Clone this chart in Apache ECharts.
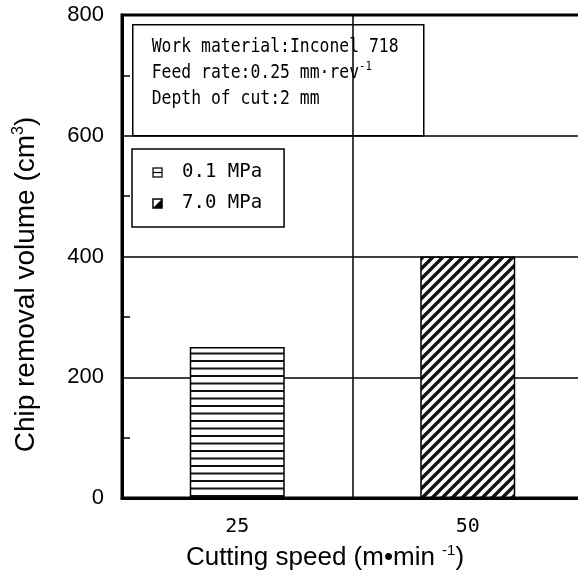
<!DOCTYPE html>
<html>
<head>
<meta charset="utf-8">
<script src="https://cdn.jsdelivr.net/npm/echarts@6/dist/echarts.min.js"></script>
<style>
  html, body { margin: 0; padding: 0; background: #fff; }
  #chart { width: 578px; height: 586px; }
</style>
</head>
<body>
<div id="chart"></div>
<script>
// data
const categories = ['25', '50']
const seriesNames = ['0.1 MPa', '7.0 MPa']
const lowPressure = [250, null]
const highPressure = [null, 400]
const yTicks = { min: 0, max: 800, interval: 200 }

const monoFont = '"DejaVu Sans Mono", monospace'
const sansFont = '"Liberation Sans", Arial, sans-serif'

// hatch patterns for the bars
function makeCanvas (w, h) {
  const c = document.createElement('canvas')
  c.width = w
  c.height = h
  return c
}

function horizontalHatch () {
  const c = makeCanvas(10, 15)
  const ctx = c.getContext('2d')
  ctx.fillStyle = '#fff'
  ctx.fillRect(0, 0, 10, 15)
  ctx.fillStyle = '#111'
  ctx.fillRect(0, 0, 10, 2)
  ctx.fillRect(0, 7.5, 10, 2)
  return c
}

function diagonalHatch () {
  const s = 10
  const c = makeCanvas(s, s)
  const ctx = c.getContext('2d')
  ctx.fillStyle = '#fff'
  ctx.fillRect(0, 0, s, s)
  ctx.strokeStyle = '#111'
  ctx.lineWidth = 3.4
  ctx.beginPath()
  // "/" stripes, repeated so the tile joins up
  for (let k = -1; k <= 1; k++) {
    ctx.moveTo(k * s - 2, s + 2)
    ctx.lineTo(k * s + s + 2, -2)
  }
  ctx.stroke()
  return c
}

// legend icons
function iconLines () {
  const c = makeCanvas(22, 22)
  const ctx = c.getContext('2d')
  ctx.strokeStyle = '#000'
  ctx.lineWidth = 2.5
  ctx.strokeRect(2, 2, 18, 18)
  ctx.beginPath()
  ctx.moveTo(2, 11)
  ctx.lineTo(20, 11)
  ctx.stroke()
  return c.toDataURL()
}

function iconDiag () {
  const c = makeCanvas(22, 22)
  const ctx = c.getContext('2d')
  ctx.fillStyle = '#000'
  ctx.beginPath()
  ctx.moveTo(20, 2)
  ctx.lineTo(20, 20)
  ctx.lineTo(2, 20)
  ctx.closePath()
  ctx.fill()
  ctx.strokeStyle = '#000'
  ctx.lineWidth = 3
  ctx.strokeRect(2, 2, 18, 18)
  return c.toDataURL()
}

const chart = echarts.init(document.getElementById('chart'))

const option = {
  animation: false,
  backgroundColor: '#fff',
  grid: {
    left: 122,
    width: 461, // runs past the right edge, as in the original
    top: 15,
    bottom: 88,
    outerBoundsMode: 'none',
    show: true,
    borderColor: '#000',
    borderWidth: 3,
    backgroundColor: 'transparent'
  },
  legend: {
    orient: 'vertical',
    left: 132,
    top: 149,
    padding: [14, 22, 14, 20],
    itemGap: 12,
    itemWidth: 11,
    itemHeight: 11,
    borderColor: '#000',
    borderWidth: 1.5,
    backgroundColor: '#fff',
    z: 20,
    textStyle: {
      fontFamily: monoFont,
      fontSize: 19,
      color: '#000',
      padding: [0, 0, 0, 14]
    },
    data: [
      { name: seriesNames[0], icon: 'image://' + iconLines() },
      { name: seriesNames[1], icon: 'image://' + iconDiag() }
    ]
  },
  xAxis: {
    type: 'category',
    data: categories,
    boundaryGap: true,
    axisLine: { show: true, lineStyle: { color: '#000', width: 3 } },
    axisTick: { show: false },
    axisLabel: {
      margin: 19,
      fontFamily: monoFont,
      fontSize: 20,
      color: '#000'
    },
    splitLine: { show: true, lineStyle: { color: '#000', width: 1.5 } },
    name: 'Cutting speed (m•min {sup|-1})',
    nameLocation: 'middle',
    nameGap: 45,
    nameTextStyle: {
      fontFamily: sansFont,
      fontSize: 26,
      color: '#000',
      padding: [0, 55, 0, 0],
      rich: {
        sup: { fontFamily: sansFont, fontSize: 15, color: '#000', verticalAlign: 'top', padding: [0, 0, 14, 0] }
      }
    }
  },
  yAxis: {
    type: 'value',
    min: yTicks.min,
    max: yTicks.max,
    interval: yTicks.interval,
    axisLine: { show: true, lineStyle: { color: '#000', width: 3 } },
    axisTick: { show: false, inside: true, length: 8 },
    minorTick: { show: true, splitNumber: 2, length: 8, lineStyle: { color: '#000', width: 1.5 } },
    axisLabel: {
      margin: 18,
      fontFamily: sansFont,
      fontSize: 22,
      color: '#000'
    },
    splitLine: { show: true, lineStyle: { color: '#000', width: 1.5 } },
    name: 'Chip removal volume (cm{sup|3})',
    nameLocation: 'middle',
    nameGap: 80,
    nameTextStyle: {
      fontFamily: sansFont,
      fontSize: 28,
      color: '#000',
      padding: [0, 56, 0, 0],
      rich: {
        sup: { fontFamily: sansFont, fontSize: 16, color: '#000', verticalAlign: 'top', padding: [0, 0, 15, 0] }
      }
    }
  },
  graphic: [
    {
      type: 'group',
      left: 132,
      top: 24,
      z: 50,
      children: [
        {
          type: 'rect',
          shape: { x: 0, y: 0, width: 291, height: 111 },
          style: { fill: '#fff', stroke: '#000', lineWidth: 1.5 }
        },
        {
          type: 'text',
          x: 19,
          y: 9,
          scaleX: 0.82,
          style: {
            text: 'Work material:Inconel 718\nFeed rate:0.25 mm·rev{s|-1}\nDepth of cut:2 mm',
            font: '20px ' + monoFont,
            fill: '#000',
            lineHeight: 26,
            rich: {
              s: { fontFamily: monoFont, fontSize: 13, fill: '#000', verticalAlign: 'top', lineHeight: 26, padding: [0, 0, 8, 0] }
            }
          }
        }
      ]
    }
  ],
  series: [
    {
      name: seriesNames[0],
      type: 'bar',
      data: lowPressure,
      barWidth: 95,
      barGap: '-100%',
      itemStyle: {
        color: { image: horizontalHatch(), repeat: 'repeat' },
        borderColor: '#000',
        borderWidth: 1.5
      }
    },
    {
      name: seriesNames[1],
      type: 'bar',
      data: highPressure,
      barWidth: 95,
      barGap: '-100%',
      itemStyle: {
        color: { image: diagonalHatch(), repeat: 'repeat' },
        borderColor: '#000',
        borderWidth: 1.5
      }
    }
  ]
}

chart.setOption(option)
</script>
</body>
</html>
